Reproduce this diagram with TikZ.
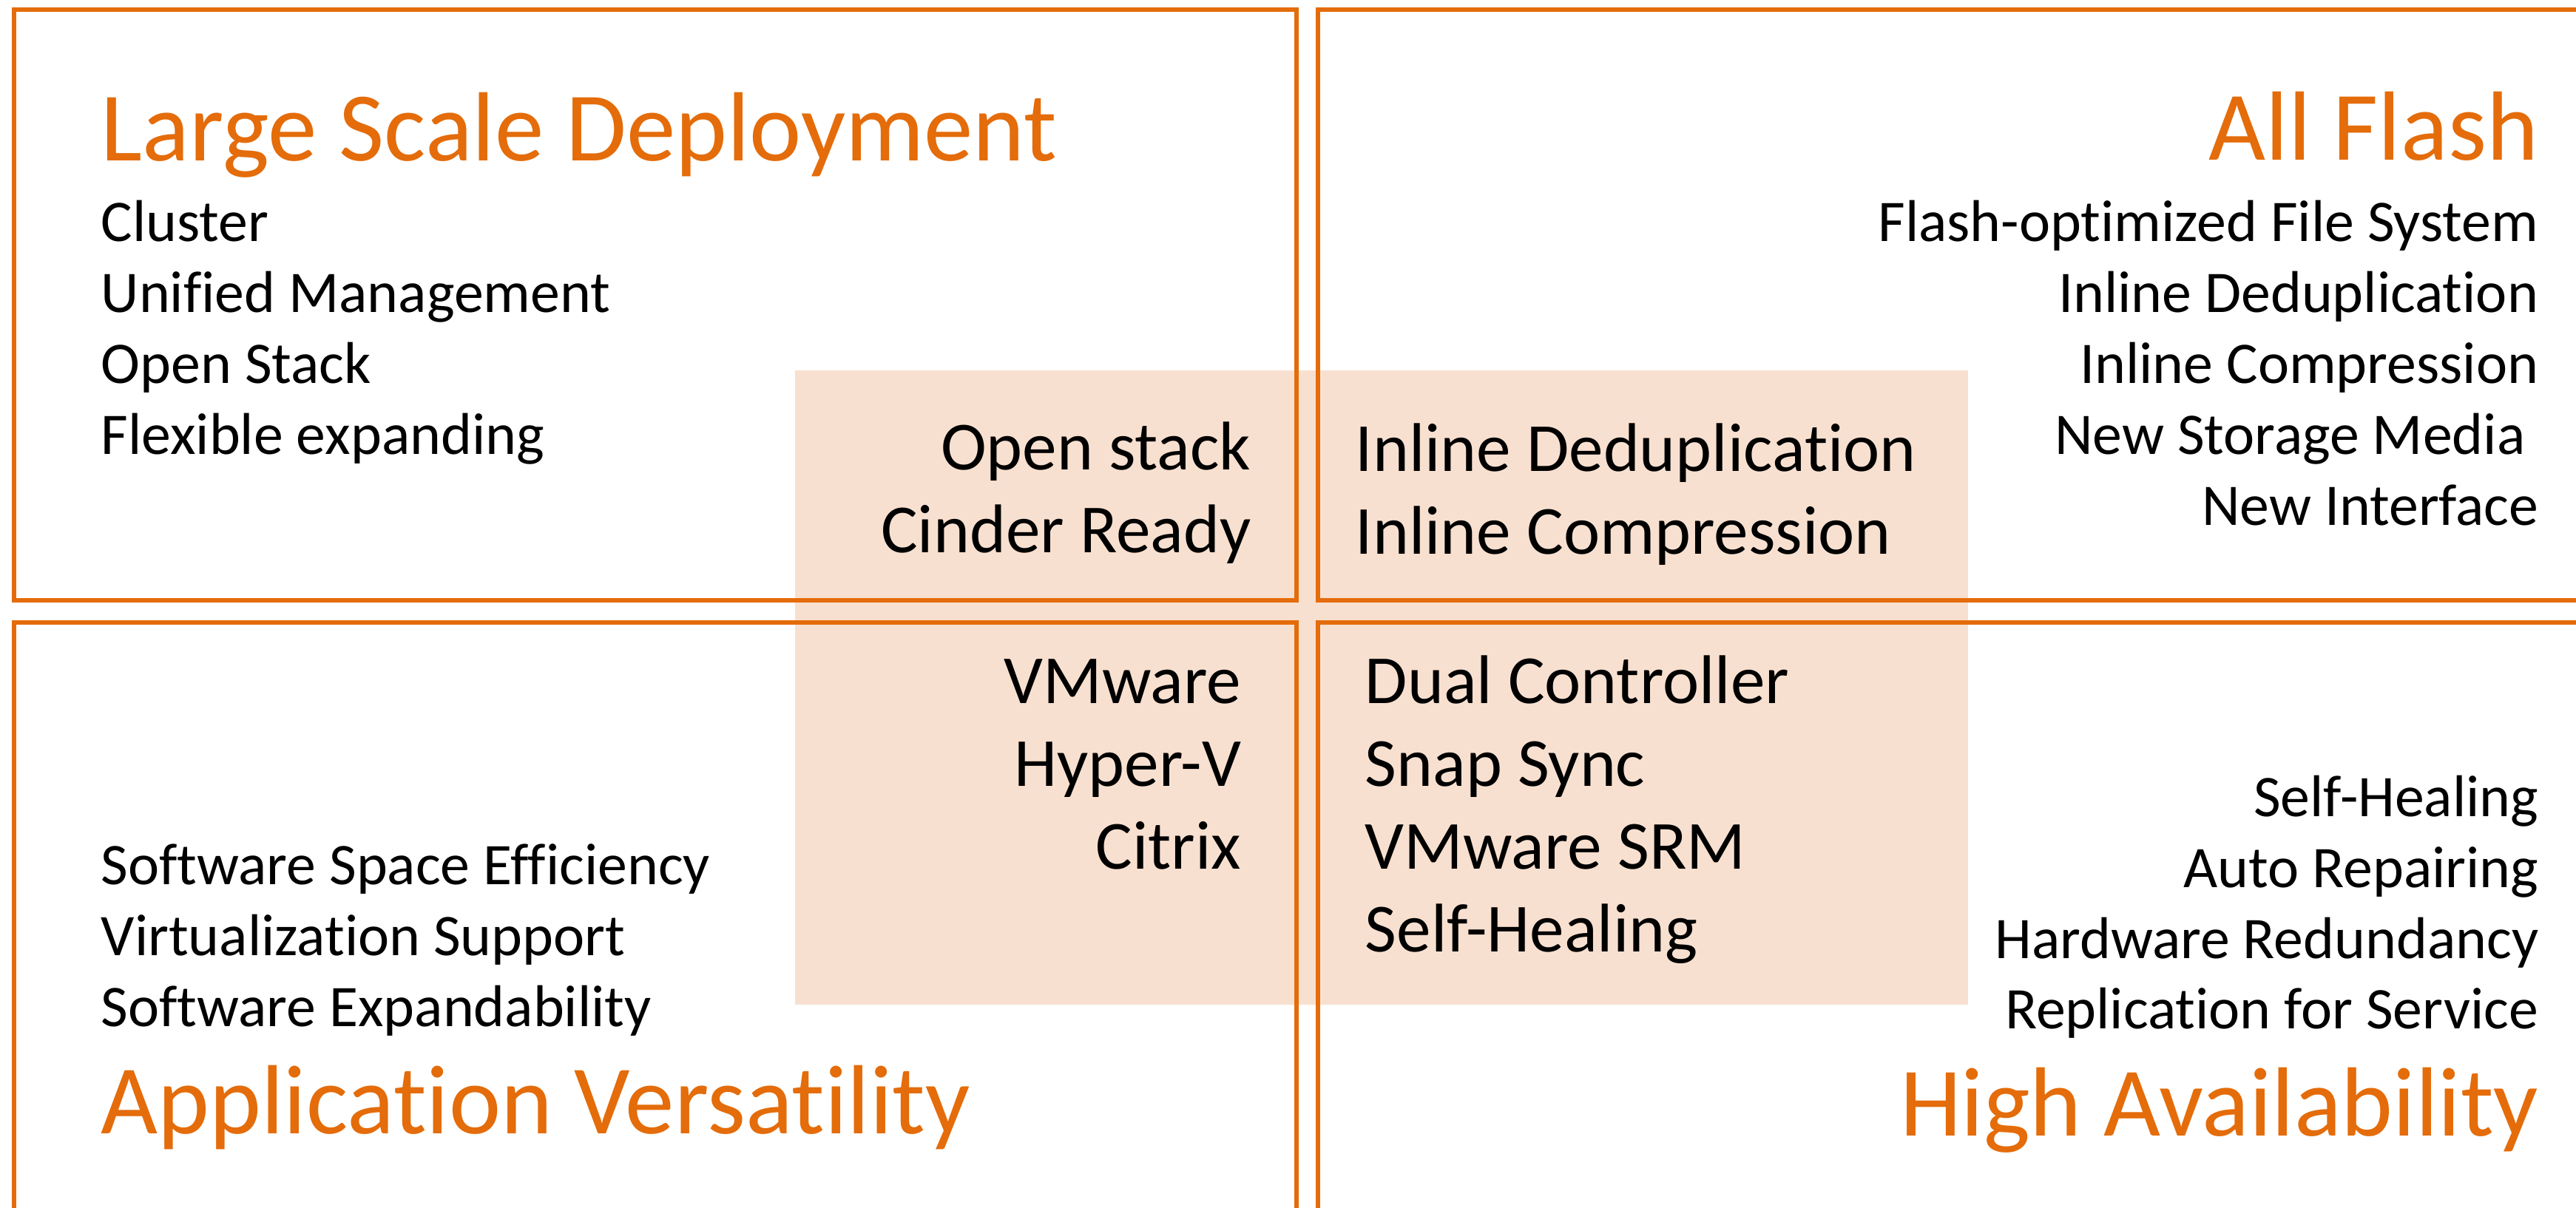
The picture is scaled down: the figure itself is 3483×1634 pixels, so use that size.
\documentclass[tikz,border=0pt]{standalone}
\usepackage{fontspec}
\setmainfont{Carlito}[Ligatures=NoCommon]
\definecolor{acc}{HTML}{E46C0A}
\definecolor{tint}{HTML}{F8E0D0}
\tikzset{
  frame/.style={draw=acc, line width=1.45pt},
  ttl/.style={inner sep=0pt, text=acc, font=\fontsize{33.25}{40}\selectfont},
  body/.style={inner sep=0pt, font=\fontsize{19.95}{24}\selectfont},
  mid/.style={inner sep=0pt, font=\fontsize{23.3}{28}\selectfont},
}
\begin{document}
\begin{tikzpicture}[x=0.25pt,y=-0.25pt]
\useasboundingbox (0,0) rectangle (3483,1634);
\clip (0,0) rectangle (3483,1634);
% central tinted band
\fill[tint] (1075,501) rectangle (2661,1359);
% four quadrant frames
\draw[frame] (19,13) rectangle (1753,812);
\draw[frame] (1782,13) rectangle (3516,812);
\draw[frame] (19,842) rectangle (1753,1641);
\draw[frame] (1782,842) rectangle (3516,1641);
% top-left
\node[ttl, anchor=base west] (tlt) at (136,218) {Large Scale Deployment};
\node[body, anchor=base west] (tl1) at (136,327) {Cluster};
\node[body, anchor=base west] (tl2) at (136,423) {Unified Management};
\node[body, anchor=base west] (tl3) at (136,519) {Open Stack};
\node[body, anchor=base west] (tl4) at (136,615) {Flexible expanding};
% top-right
\node[ttl, anchor=base east] (trt) at (3433,217) {All Flash};
\node[body, anchor=base east] (tr1) at (3433,327) {Flash-optimized File System};
\node[body, anchor=base east] (tr2) at (3433,423) {Inline Deduplication};
\node[body, anchor=base east] (tr3) at (3433,519) {Inline Compression};
\node[body, anchor=base east] (tr4) at (3415,615) {New Storage Media};
\node[body, anchor=base east] (tr5) at (3433,711) {New Interface};
% bottom-left
\node[body, anchor=base west] (bl1) at (136,1197) {Software Space Efficiency};
\node[body, anchor=base west] (bl2) at (136,1293) {Virtualization Support};
\node[body, anchor=base west] (bl3) at (136,1389) {Software Expandability};
\node[ttl, anchor=base west] (blt) at (136,1534) {Application Versatility};
% bottom-right
\node[body, anchor=base east] (br1) at (3433,1105) {Self-Healing};
\node[body, anchor=base east] (br2) at (3433,1201) {Auto Repairing};
\node[body, anchor=base east] (br3) at (3433,1297) {Hardware Redundancy};
\node[body, anchor=base east] (br4) at (3433,1392) {Replication for Service};
\node[ttl, anchor=base east] (brt) at (3433,1537) {High Availability};
% centre texts
\node[mid, anchor=base east] (c1) at (1692,636) {Open stack};
\node[mid, anchor=base east] (c2) at (1692,748) {Cinder Ready};
\node[mid, anchor=base west] (c3) at (1832,638) {Inline Deduplication};
\node[mid, anchor=base west] (c4) at (1832,750) {Inline Compression};
\node[mid, anchor=base east] (c5) at (1679,952) {VMware};
\node[mid, anchor=base east] (c6) at (1679,1064) {Hyper-V};
\node[mid, anchor=base east] (c7) at (1679,1176) {Citrix};
\node[mid, anchor=base west] (c8) at (1845,952) {Dual Controller};
\node[mid, anchor=base west] (c9) at (1845,1064) {Snap Sync};
\node[mid, anchor=base west] (c10) at (1845,1176) {VMware SRM};
\node[mid, anchor=base west] (c11) at (1845,1288) {Self-Healing};
\end{tikzpicture}
\end{document}
